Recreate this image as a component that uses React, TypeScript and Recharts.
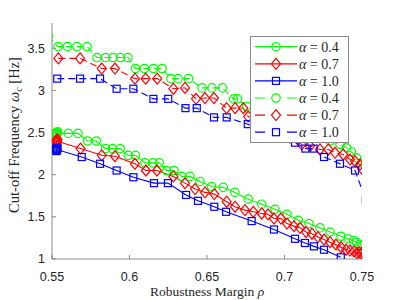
import React from "react";
import { LineChart, Line, XAxis, YAxis, Legend, Label } from "recharts";

// robustness margin ticks / cut-off frequency ticks
const rhoTicks = [0.55, 0.6, 0.65, 0.7, 0.75];
const omegaTicks = [1, 1.5, 2, 2.5, 3, 3.5];

// [rho, omega_c] pairs
const solid04: [number, number][] = [
  [0.5522, 2.48], [0.5526, 2.5], [0.553, 2.47], [0.5533, 2.49], [0.5536, 2.51], [0.5529, 2.49],
  [0.5605, 2.49], [0.5668, 2.49], [0.5729, 2.4], [0.5786, 2.4], [0.5845, 2.31], [0.589, 2.31],
  [0.594, 2.31], [0.5992, 2.23], [0.6039, 2.23], [0.61, 2.14], [0.6152, 2.14], [0.6192, 2.14],
  [0.624, 2.05], [0.6287, 2.05], [0.6337, 1.98], [0.639, 1.98], [0.6455, 1.92], [0.653, 1.86],
  [0.6605, 1.85], [0.668, 1.79], [0.6766, 1.71], [0.6853, 1.65], [0.6939, 1.59], [0.7016, 1.53],
  [0.7089, 1.46], [0.7158, 1.42], [0.7229, 1.37], [0.7294, 1.32], [0.7365, 1.27], [0.741, 1.24],
  [0.7445, 1.22], [0.7465, 1.2], [0.7487, 1.17], [0.7495, 1.15],
];
const solid07: [number, number][] = [
  [0.5522, 2.39], [0.5526, 2.41], [0.553, 2.38], [0.5533, 2.4], [0.5536, 2.42], [0.5529, 2.4],
  [0.5684, 2.31], [0.5821, 2.23], [0.5906, 2.22], [0.6035, 2.13], [0.6106, 2.05], [0.6177, 2.05],
  [0.6283, 1.98], [0.6358, 1.9], [0.6423, 1.83], [0.6487, 1.79], [0.6547, 1.77], [0.6627, 1.68],
  [0.6681, 1.62], [0.6745, 1.58], [0.6799, 1.56], [0.6853, 1.54], [0.6894, 1.53], [0.6932, 1.48],
  [0.6977, 1.48], [0.7016, 1.42], [0.7061, 1.39], [0.71, 1.37], [0.7139, 1.32], [0.7177, 1.3],
  [0.7216, 1.26], [0.7255, 1.23], [0.7294, 1.2], [0.7332, 1.17], [0.7365, 1.14], [0.7397, 1.11],
  [0.7423, 1.1], [0.7448, 1.09], [0.7468, 1.07], [0.7481, 1.08], [0.7494, 1.06], [0.75, 1.08],
];
const solid10: [number, number][] = [
  [0.5522, 2.29], [0.5526, 2.31], [0.553, 2.28], [0.5533, 2.3], [0.5536, 2.32], [0.5529, 2.3],
  [0.5692, 2.21], [0.581, 2.13], [0.5917, 2.05], [0.6025, 1.97], [0.6158, 1.9], [0.6248, 1.9],
  [0.6365, 1.76], [0.6442, 1.69], [0.6547, 1.62], [0.6623, 1.56], [0.6788, 1.45], [0.6932, 1.35],
  [0.7068, 1.24], [0.7132, 1.19], [0.719, 1.15], [0.7255, 1.11], [0.7363, 1.02],
];
const dashed04: [number, number][] = [
  [0.5475, 3.64], [0.5539, 3.52], [0.56, 3.52], [0.5661, 3.52], [0.5726, 3.52], [0.579, 3.39],
  [0.5845, 3.39], [0.5894, 3.39], [0.5942, 3.39], [0.599, 3.39], [0.6039, 3.26], [0.6097, 3.26],
  [0.6155, 3.26], [0.621, 3.26], [0.6268, 3.14], [0.6313, 3.14], [0.6381, 3.14], [0.6468, 3.03],
  [0.6532, 3.03], [0.66, 3.03], [0.6671, 2.9], [0.6697, 2.9], [0.6756, 2.81], [0.6829, 2.75],
  [0.6906, 2.68], [0.6984, 2.62], [0.7061, 2.56], [0.7139, 2.5], [0.7216, 2.45], [0.7294, 2.4],
  [0.7358, 2.36], [0.74, 2.32], [0.7432, 2.27], [0.7465, 2.2], [0.7498, 2.14],
];
const dashed07: [number, number][] = [
  [0.5541, 3.38], [0.5681, 3.38], [0.5821, 3.26], [0.5906, 3.26], [0.6035, 3.14], [0.6104, 3.14],
  [0.6179, 3.14], [0.6283, 3.02], [0.6358, 3.03], [0.6429, 2.9], [0.6487, 2.91], [0.6545, 2.91],
  [0.6626, 2.79], [0.6681, 2.79], [0.6734, 2.79], [0.6766, 2.69], [0.6855, 2.63], [0.6945, 2.54],
  [0.7035, 2.44], [0.7111, 2.36], [0.7165, 2.34], [0.7229, 2.3], [0.7283, 2.3], [0.7326, 2.26],
  [0.7379, 2.24], [0.7423, 2.18], [0.7455, 2.16], [0.7487, 2.12], [0.75, 2.07],
];
const dashed10: [number, number][] = [
  [0.5534, 3.14], [0.5681, 3.14], [0.581, 3.14], [0.5917, 3.02], [0.6025, 3.02], [0.6154, 2.9],
  [0.625, 2.9], [0.6361, 2.79], [0.6434, 2.79], [0.6545, 2.68], [0.6627, 2.68], [0.6763, 2.6],
  [0.6906, 2.49], [0.7068, 2.38], [0.7135, 2.31], [0.7188, 2.31], [0.7255, 2.21], [0.7358, 2.13],
  [0.7455, 2.05], [0.7525, 1.7],
];

const alphas = ["0.4", "0.7", "1.0"];

const GREEN = "#00ff00";
const RED = "#ff0000";
const BLUE = "#0000ff";

const series = [
  { id: "s04", pts: solid04, color: GREEN, shape: "circle", dashed: false, alpha: alphas[0] },
  { id: "s07", pts: solid07, color: RED, shape: "diamond", dashed: false, alpha: alphas[1] },
  { id: "s10", pts: solid10, color: BLUE, shape: "square", dashed: false, alpha: alphas[2] },
  { id: "d04", pts: dashed04, color: GREEN, shape: "circle", dashed: true, alpha: alphas[0] },
  { id: "d07", pts: dashed07, color: RED, shape: "diamond", dashed: true, alpha: alphas[1] },
  { id: "d10", pts: dashed10, color: BLUE, shape: "square", dashed: true, alpha: alphas[2] },
];

const AXIS = "#8a8a8a";
const TXT = "#262626";
const DASH = "7 4";

function marker(shape: string, cx: number, cy: number, color: string, key?: any) {
  if (shape === "circle")
    return <circle key={key} cx={cx} cy={cy} r={4.2} fill="none" stroke={color} strokeWidth={1.2} />;
  if (shape === "diamond")
    return (
      <polygon
        key={key}
        points={`${cx},${cy - 5.5} ${cx + 4.5},${cy} ${cx},${cy + 5.5} ${cx - 4.5},${cy}`}
        fill="none"
        stroke={color}
        strokeWidth={1.2}
      />
    );
  return <rect key={key} x={cx - 3.5} y={cy - 3.5} width={7} height={7} fill="none" stroke={color} strokeWidth={1.2} />;
}

function LegendBox() {
  return (
    <div
      style={{
        width: 99,
        height: 107,
        boxSizing: "border-box",
        border: `1px solid ${AXIS}`,
        background: "#fff",
      }}
    >
      <svg width={97} height={105} style={{ display: "block" }}>
        {series.map((s, i) => {
          const cy = 9.7 + i * 17.1;
          return (
            <g key={s.id}>
              <line
                x1={4}
                x2={46}
                y1={cy}
                y2={cy}
                stroke={s.color}
                strokeWidth={1.2}
                strokeDasharray={s.dashed ? "10 22 10" : undefined}
              />
              {marker(s.shape, 25, cy, s.color)}
              <text x={48} y={cy + 5} fontFamily="Liberation Serif" fontSize={14} fill={TXT}>
                <tspan fontStyle="italic">α</tspan> = {s.alpha}
              </text>
            </g>
          );
        })}
      </svg>
    </div>
  );
}

const XLabel = (props: any) => {
  const vb = props.viewBox;
  return (
    <text x={vb.x + vb.width / 2} y={vb.y + 37} textAnchor="middle" fontFamily="Liberation Serif" fontSize={13.5} fill={TXT}>
      Robustness Margin <tspan fontStyle="italic">ρ</tspan>
    </text>
  );
};

const YLabel = () => {
  const x = 18.5;
  const y = 135;
  return (
    <text
      x={x}
      y={y}
      transform={`rotate(-90 ${x} ${y})`}
      textAnchor="middle"
      fontFamily="Liberation Serif"
      fontSize={14.5}
      fill={TXT}
    >
      Cut-off Frequency <tspan fontStyle="italic">ω</tspan>
      <tspan fontStyle="italic" fontSize={10} dy={3}>c</tspan>
      <tspan dy={-3}> [Hz]</tspan>
    </text>
  );
};

export default function App() {
  const tickStyle = { fontFamily: "Liberation Sans, Arial", fontSize: 12.5, fill: TXT };
  return (
    <div style={{ position: "absolute", left: 0, top: 0, width: 400, height: 300, background: "#fff" }}>
      <LineChart width={400} height={300} margin={{ top: 23, right: 38, bottom: 11, left: 12 }}>
        <XAxis
          xAxisId="b"
          dataKey="rho"
          type="number"
          domain={[0.55, 0.75]}
          ticks={rhoTicks}
          allowDataOverflow
          height={30}
          stroke={AXIS}
          tickSize={-4}
          tickMargin={17}
          tick={tickStyle}
          label={<Label content={XLabel} />}
        />
        <XAxis
          xAxisId="t"
          orientation="top"
          dataKey="rho"
          type="number"
          domain={[0.55, 0.75]}
          ticks={rhoTicks}
          allowDataOverflow
          height={0}
          stroke={AXIS}
          tickSize={-4}
          tick={false}
        />
        <YAxis
          yAxisId="l"
          type="number"
          domain={[1, 3.8]}
          ticks={omegaTicks}
          allowDataOverflow
          width={40}
          stroke={AXIS}
          tickSize={-4}
          tickMargin={11}
          tick={tickStyle}
          label={<Label content={YLabel} />}
        />
        <YAxis
          yAxisId="r"
          orientation="right"
          type="number"
          domain={[1, 3.8]}
          ticks={omegaTicks}
          allowDataOverflow
          width={0}
          stroke={AXIS}
          tickSize={-4}
          tick={false}
        />
        {series.map((s) => (
          <Line
            key={s.id}
            xAxisId="b"
            yAxisId="l"
            data={s.pts.map(([rho, w]) => ({ rho, w }))}
            dataKey="w"
            stroke={s.color}
            strokeWidth={1.1}
            strokeDasharray={s.dashed ? DASH : undefined}
            isAnimationActive={false}
            dot={(p: any) => marker(s.shape, p.cx, p.cy, s.color, `${s.id}-${p.index}`)}
            activeDot={false}
          />
        ))}
        <Legend
          layout="vertical"
          align="center"
          verticalAlign="middle"
          wrapperStyle={{ left: 250, top: 36, width: 99, height: 107 }}
          content={() => <LegendBox />}
        />
      </LineChart>
    </div>
  );
}
